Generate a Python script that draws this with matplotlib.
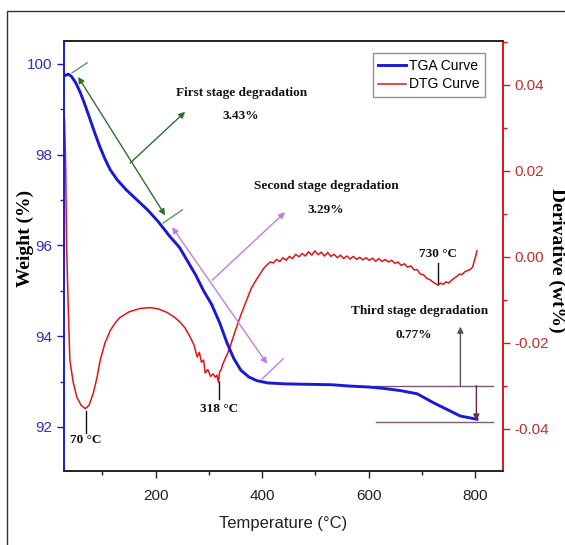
import matplotlib
matplotlib.use("Agg")
import matplotlib.pyplot as plt
from matplotlib.patches import Rectangle
from matplotlib.ticker import MultipleLocator

# ---------------- data ----------------
tga_temp = [30, 36, 42, 50, 58, 66, 75, 85, 95, 105, 115, 128, 145, 165, 185, 205, 225,
            245, 260, 275, 290, 305, 320, 334, 347, 360, 375, 390, 410, 440, 480, 530,
            565, 600, 627, 660, 691, 722, 753, 772, 790, 803]
tga_weight = [99.74, 99.77, 99.72, 99.58, 99.38, 99.14, 98.84, 98.5, 98.18, 97.9, 97.66,
              97.44, 97.22, 97.0, 96.78, 96.52, 96.22, 95.95, 95.65, 95.35, 95.0, 94.7,
              94.3, 93.85, 93.5, 93.25, 93.1, 93.02, 92.97, 92.95, 92.94, 92.93, 92.9,
              92.88, 92.85, 92.8, 92.73, 92.53, 92.35, 92.24, 92.2, 92.17]

dtg_temp = [29, 31, 33, 36, 39, 45, 52, 60, 68, 75, 83, 90, 96, 105, 115, 125, 133, 150,
            171, 190, 205, 221, 235, 246, 255, 265, 272, 278, 282, 286, 290, 293, 298,
            303, 308, 312, 315, 318, 320, 323, 326, 330, 335, 340, 350, 360, 371, 380,
            388, 396, 402, 408, 415, 421, 427, 433, 439, 445, 451, 457, 463, 469, 475,
            481, 487, 493, 499, 505, 511, 517, 523, 529, 535, 541, 547, 553, 559, 565,
            571, 577, 583, 589, 595, 601, 607, 613, 619, 625, 631, 637, 643, 649, 655,
            661, 667, 673, 679, 685, 691, 697, 703, 709, 715, 720, 725, 730, 735, 740,
            745, 750, 755, 760, 765, 770, 775, 780, 785, 790, 795, 798, 800, 803]
dtg_value = [0.032, 0.022, 0.002, -0.012, -0.024, -0.029, -0.0326, -0.0345, -0.0353,
             -0.0345, -0.0317, -0.028, -0.024, -0.020, -0.0171, -0.0152, -0.0141,
             -0.0128, -0.012, -0.0118, -0.0121, -0.0129, -0.014, -0.0152, -0.0165,
             -0.0187, -0.0205, -0.0233, -0.0222, -0.0245, -0.0240, -0.0270, -0.0262,
             -0.0278, -0.0272, -0.0280, -0.0275, -0.0292, -0.0268, -0.0262, -0.0250,
             -0.0238, -0.0225, -0.0208, -0.0170, -0.0135, -0.0100, -0.0072, -0.0055,
             -0.0040, -0.0028, -0.0020, -0.0012, -0.0014, -0.0006, -0.0011, -0.0002,
             -0.0008, 0.0001, -0.0004, 0.0006, 0.0, 0.0008, 0.0002, 0.0012, 0.0004,
             0.0014, 0.0005, 0.0011, 0.0002, 0.0010, 0.0001, 0.0006, -0.0002, 0.0004,
             -0.0004, 0.0002, -0.0005, 0.0001, -0.0006, -0.0001, -0.0007, -0.0002,
             -0.0008, -0.0003, -0.0010, -0.0004, -0.0011, -0.0006, -0.0012, -0.0008,
             -0.0015, -0.0012, -0.0020, -0.0016, -0.0024, -0.0021, -0.0030, -0.0030,
             -0.0040, -0.0042, -0.0050, -0.0053, -0.0058, -0.0062, -0.0066, -0.0061,
             -0.0064, -0.0058, -0.0061, -0.0055, -0.0050, -0.0046, -0.0040, -0.0041,
             -0.0035, -0.0032, -0.0030, -0.0024, -0.0010, -0.0002, 0.0014]

x_ticks = [200, 400, 600, 800]
w_ticks = [92, 94, 96, 98, 100]
d_ticks = [-0.04, -0.02, 0.00, 0.02, 0.04]
d_labels = ["-0.04", "-0.02", "0.00", "0.02", "0.04"]

# ---------------- figure ----------------
W, H = 565, 545
fig = plt.figure(figsize=(W / 100, H / 100), dpi=100)
fig.patch.set_facecolor("white")

def fx(px):
    return px / W

def fy(py):
    return 1 - py / H

# outer frame (cut at right and bottom)
fig.add_artist(Rectangle((fx(7), -0.1), 1.2, fy(11) + 0.1, transform=fig.transFigure,
                         fill=False, edgecolor="#333333", lw=1.0))

ax1 = fig.add_axes([fx(64), fy(471), fx(503) - fx(64), fy(41) - fy(471)])
ax2 = ax1.twinx()

blue = "#1a1ad6"
red = "#e01515"
sans = "Liberation Sans"
serif = "Liberation Serif"

l1, = ax1.plot(tga_temp, tga_weight, color=blue, lw=2.1, label="TGA Curve", zorder=5)
l2, = ax2.plot(dtg_temp, dtg_value, color=red, lw=1.1, label="DTG Curve")

ax1.set_xlim(28, 852)
ax1.set_ylim(91.03, 100.5)
ax2.set_ylim(-0.0498, 0.0502)

ax1.set_xticks(x_ticks)
ax1.xaxis.set_minor_locator(MultipleLocator(100))
ax1.set_yticks(w_ticks)
ax1.yaxis.set_minor_locator(MultipleLocator(1))
ax2.set_yticks(d_ticks)
ax2.set_yticklabels(d_labels)
ax2.yaxis.set_minor_locator(MultipleLocator(0.01))

for a in (ax1, ax2):
    a.tick_params(which="major", length=5, width=1.0, direction="out")
    a.tick_params(which="minor", length=3, width=1.0, direction="out")

ax1.tick_params(axis="y", which="both", colors=blue, labelsize=11)
ax1.tick_params(axis="x", which="both", colors="#222222", labelsize=11, pad=8)
ax2.tick_params(axis="y", which="both", colors=red, labelsize=11)
for lab in ax1.get_yticklabels():
    lab.set_color("#3030c0"); lab.set_family(sans)
for lab in ax1.get_xticklabels():
    lab.set_color("#222222"); lab.set_family(sans)
for lab in ax2.get_yticklabels():
    lab.set_color("#c03030"); lab.set_family(sans)

ax1.spines["left"].set_color(blue)
ax2.spines["left"].set_color(blue)
ax2.spines["right"].set_color(red)
ax1.spines["right"].set_color(red)
for a in (ax1, ax2):
    a.spines["top"].set_color("#222222")
    a.spines["bottom"].set_color("#222222")
    for s in a.spines.values():
        s.set_linewidth(1.2)

ax1.set_xlabel("Temperature (\u00b0C)", fontsize=12, family=sans, color="#222222", labelpad=9)
fig.text(fx(25), fy(238), "Weight (%)", rotation=90, ha="center", va="center",
         family=serif, fontweight="bold", fontsize=14)
fig.text(fx(557), fy(260), "Derivative (wt%)", rotation=-90, ha="center", va="center",
         family=serif, fontweight="bold", fontsize=14)

leg = ax1.legend(handles=[l1, l2], loc="upper right", bbox_to_anchor=(0.959, 0.972),
                 frameon=True, fancybox=False, edgecolor="#777777",
                 prop={"family": sans, "size": 10}, handlelength=2.0,
                 borderpad=0.4, labelspacing=0.35, handletextpad=0.2,
                 borderaxespad=0.0)
leg.get_frame().set_linewidth(1.0)
leg.set_zorder(10)

# ---------------- annotations (ax1 data coords) ----------------
green = "#2f6f2f"
violet = "#c07fe0"
tf = dict(family=serif, fontweight="bold", fontsize=9.5, ha="center", va="center",
          color="#111111")

def arrow(p0, p1, color, style="-|>", lw=1.0):
    ax1.annotate("", xy=p1, xytext=p0,
                 arrowprops=dict(arrowstyle=style, color=color, lw=lw,
                                 shrinkA=0, shrinkB=0, mutation_scale=9), zorder=6)

# first stage
arrow((217.8, 96.66), (54.5, 99.71), green, "<|-|>")
ax1.plot([43.2, 71.4], [99.80, 100.02], color="#5a9a5a", lw=1.0)
ax1.plot([214, 250], [96.49, 96.78], color="#5a9a5a", lw=1.0)
arrow((152, 97.81), (255.4, 98.94), green)
ax1.text(362, 99.36, "First stage degradation", **tf)
ax1.text(359, 98.85, "3.43%", **tf)

# second stage
arrow((231, 96.40), (409.4, 93.39), violet, "<|-|>")
ax1.plot([400, 439.4], [93.06, 93.50], color=violet, lw=1.0)
arrow((306, 95.23), (443, 96.73), violet)
ax1.text(520, 97.30, "Second stage degradation", **tf)
ax1.text(520, 96.77, "3.29%", **tf)

# third stage
ax1.plot([612, 834], [92.91, 92.91], color="#7a5a7a", lw=1.0)
ax1.plot([614, 834], [92.12, 92.12], color="#7a5a7a", lw=1.0)
arrow((772, 92.91), (772, 94.21), "#555555")
arrow((802, 92.91), (802, 92.14), "#6a2848")
ax1.text(695, 94.56, "Third stage degradation", **tf)
ax1.text(685, 94.03, "0.77%", **tf)

# peak markers
ax1.plot([69.5, 69.5], [92.35, 91.87], color="#111111", lw=1.0)
ax1.text(69.5, 91.72, "70 \u00b0C", **tf)
ax1.plot([319, 319], [92.99, 92.62], color="#111111", lw=1.0)
ax1.text(319, 92.40, "318 \u00b0C", **tf)
ax1.plot([730, 730], [95.62, 95.16], color="#111111", lw=1.0)
ax1.text(730, 95.82, "730 \u00b0C", **tf)

ax1.set_zorder(ax2.get_zorder() + 1)
ax1.patch.set_visible(False)

fig.savefig("out.png", dpi=100, facecolor="white")
